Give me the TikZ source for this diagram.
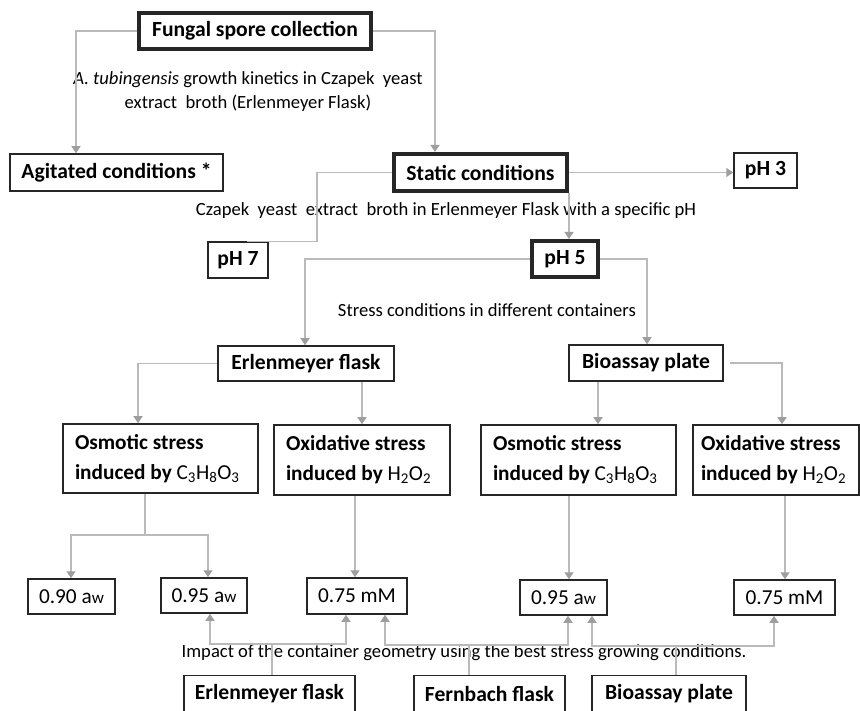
\documentclass[tikz,border=0pt]{standalone}
\usepackage{fontspec}
\setmainfont{Carlito}
\usetikzlibrary{arrows.meta}
\begin{document}
\begin{tikzpicture}[x=1pt,y=-1pt,
  box/.style={draw=black!85, line width=1.5pt, inner sep=0pt,
    font=\fontsize{21.6}{25}\selectfont\bfseries, align=center},
  bbox/.style={box, line width=4pt},
  valbox/.style={box, font=\fontsize{21.3}{25}\selectfont},
  stressbox/.style={box, align=flush left, inner xsep=12pt, inner ysep=0pt,
    text width=#1, font=\fontsize{21.3}{30}\selectfont\bfseries},
  conn/.style={draw=black!27, line width=1.3pt},
  arr/.style={conn, -{Triangle[width=9pt,length=7pt,fill=black!38,color=black!38]}},
  lab/.style={font=\fontsize{18.6}{24}\selectfont, align=flush center, inner sep=0pt}]
\useasboundingbox (0,0) rectangle (860,711);

% boxes
\node[bbox, minimum width=232pt, minimum height=36pt] (fsc) at (255,31) {Fungal spore collection};
\node[box, minimum width=213pt, minimum height=37pt] (agit) at (116.5,172.5) {Agitated conditions *};
\node[bbox, minimum width=173pt, minimum height=37pt] (st) at (480.5,172.5) {Static conditions};
\node[box, minimum width=63pt, minimum height=35pt] (pH3) at (765.5,170.5) {pH 3};
\node[box, minimum width=60pt, minimum height=36pt] (pH7) at (238,260) {pH 7};
\node[bbox, minimum width=66pt, minimum height=36pt] (pH5) at (565,259) {pH 5};
\node[box, minimum width=176pt, minimum height=35pt] (erl) at (306,363.5) {Erlenmeyer flask};
\node[box, minimum width=154pt, minimum height=36pt] (bio) at (646,363) {Bioassay plate};

\node[stressbox=171pt, minimum height=69pt] (osm1) at (160.5,458.5)
  {Osmotic stress\\induced by {\mdseries C\textsubscript{3}H\textsubscript{8}O\textsubscript{3}}};
\node[stressbox=152pt, minimum height=70pt] (oxi1) at (362,460)
  {Oxidative stress\\induced by {\mdseries H\textsubscript{2}O\textsubscript{2}}};
\node[stressbox=171pt, minimum height=70pt] (osm2) at (578.5,460)
  {Osmotic stress\\induced by {\mdseries C\textsubscript{3}H\textsubscript{8}O\textsubscript{3}}};
\node[stressbox=150pt, inner xsep=8pt, minimum height=70pt] (oxi2) at (776,460)
  {Oxidative stress\\induced by {\mdseries H\textsubscript{2}O\textsubscript{2}}};

\node[valbox, minimum width=87pt, minimum height=35pt] (a090) at (71.5,596.5) {0.90 a{\fontsize{17}{17}\selectfont w}};
\node[valbox, minimum width=86pt, minimum height=35pt] (a095a) at (204,595.5) {0.95 a{\fontsize{17}{17}\selectfont w}};
\node[valbox, minimum width=100pt, minimum height=36pt] (mM1) at (357,596) {0.75 mM};
\node[valbox, minimum width=87pt, minimum height=35pt] (a095b) at (563.5,597.5) {0.95 a{\fontsize{17}{17}\selectfont w}};
\node[valbox, minimum width=101pt, minimum height=35pt] (mM2) at (784.5,597.5) {0.75 mM};

\node[box, minimum width=171pt, minimum height=37pt] (erl2) at (269.5,694) {Erlenmeyer flask};
\node[box, minimum width=151pt, minimum height=37pt] (fern) at (489.5,694) {Fernbach flask};
\node[box, minimum width=154pt, minimum height=37pt] (bio2) at (669,694) {Bioassay plate};

% labels
\node[lab] (l1) at (248,92) {\textit{A. tubingensis} growth kinetics in Czapek\ \ yeast\\extract\ \ broth (Erlenmeyer Flask)};
\node[lab] (l2) at (446,211) {Czapek\ \ yeast\ \ extract\ \ broth in Erlenmeyer Flask with a specific pH};
\node[lab] (l3) at (487,310) {Stress conditions in different containers};
\node[lab] (l4) at (464,653) {Impact of the container geometry using the best stress growing conditions.};

% connectors
\draw[arr] (fsc.west) -| (agit.north -| 76,0);
\draw[arr] (fsc.east) -| (st.north -| 435,0);
\draw[arr] (st.east) -- (pH3.west |- st.east);
\draw[conn] (st.west) -| (pH7.north -| 317,0) -- ([xshift=9pt]pH7.north);
\draw[arr] (st.south -| 569,0) -- (pH5.north -| 569,0);
\draw[arr] (pH5.west) -| (erl.north -| 305,0);
\draw[arr] (pH5.east) -| (bio.north -| 647,0);
\draw[arr] (erl.west) -| (osm1.north -| 138,0);
\draw[arr] (erl.south -| 362,0) -- (oxi1.north -| 362,0);
\draw[arr] (bio.south -| 598,0) -- (osm2.north -| 598,0);
\draw[arr] ([xshift=6pt]bio.east) -| (oxi2.north -| 782,0);

\coordinate (j1) at (145,535);
\draw[conn] (osm1.south -| j1) -- (j1);
\draw[arr] (j1) -| (a090.north -| 71,0);
\draw[arr] (j1) -| (a095a.north -| 208,0);
\draw[arr] (oxi1.south -| 355,0) -- (mM1.north -| 355,0);
\draw[arr] (osm2.south -| 569,0) -- (a095b.north -| 569,0);
\draw[arr] (oxi2.south -| 785,0) -- (mM2.north -| 785,0);

\coordinate (j2) at (272,644);
\draw[conn] (erl2.north -| j2) -- (j2);
\draw[arr] (j2) -| (a095a.south -| 210,0);
\draw[arr] (j2) -| (mM1.south -| 346,0);
\coordinate (j3) at (469,645);
\draw[conn] (fern.north -| j3) -- (j3);
\draw[arr] (j3) -| (mM1.south -| 385,0);
\draw[arr] (j3) -| (a095b.south -| 568,0);
\coordinate (j4) at (676,646);
\draw[conn] (bio2.north -| j4) -- (j4);
\draw[arr] (j4) -| (a095b.south -| 592,0);
\draw[arr] (j4) -| (mM2.south -| 774,0);
\end{tikzpicture}
\end{document}
